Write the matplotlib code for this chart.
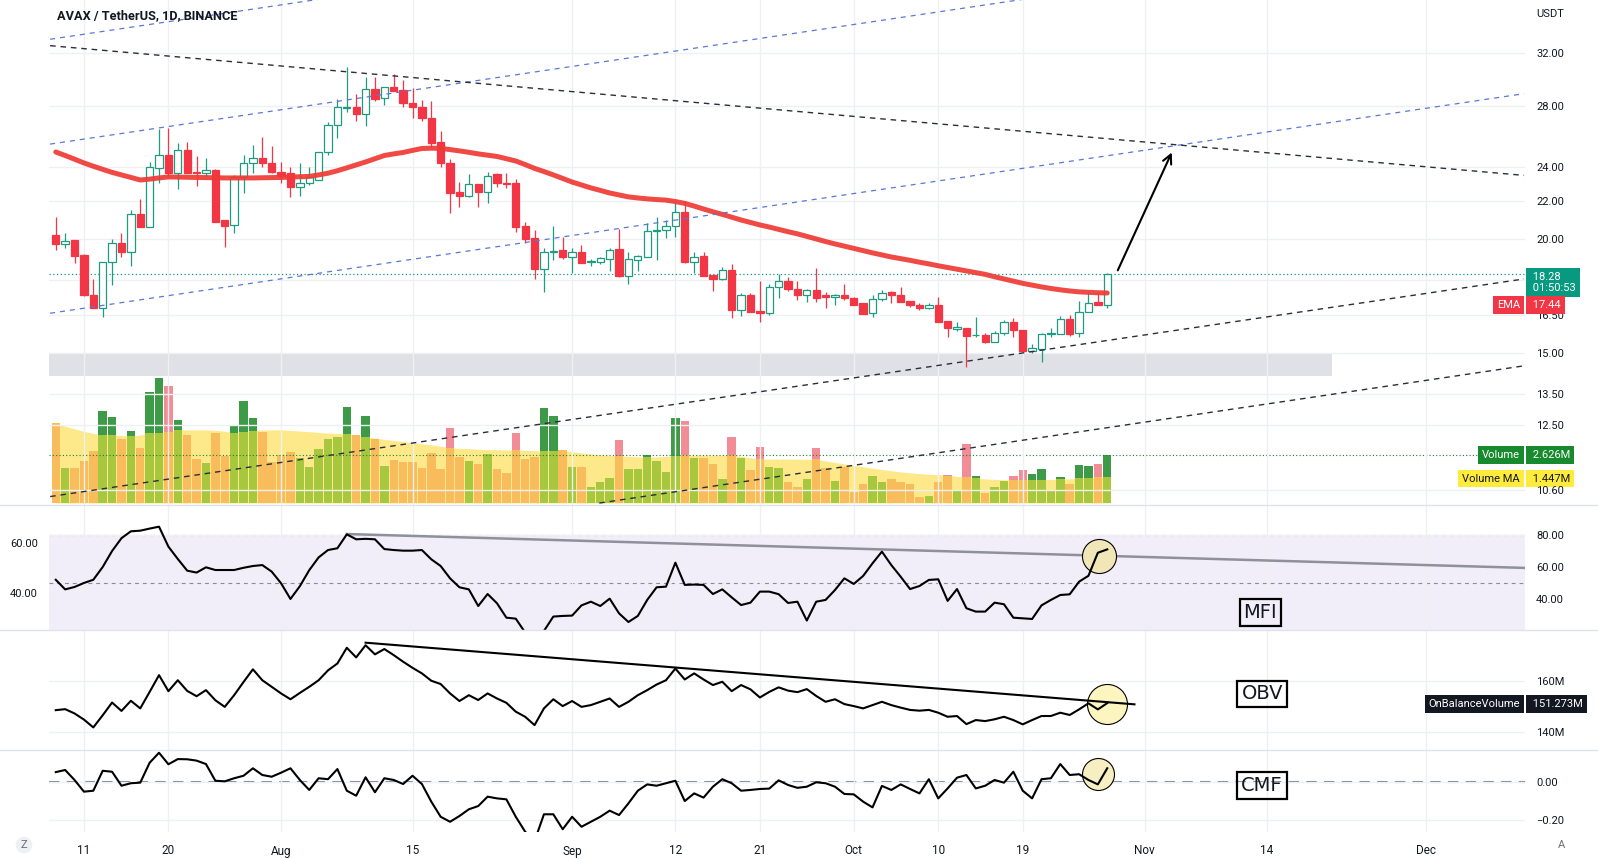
import numpy as np
import matplotlib
matplotlib.use("Agg")
from matplotlib import pyplot as plt
from matplotlib.patches import Rectangle
from matplotlib.lines import Line2D
from matplotlib.ticker import NullLocator

plt.rcParams['font.family'] = ['Roboto', 'DejaVu Sans']

# AVAX/USDT daily candles, bar 0 = 8 Jul 2022 ... bar 112 = 28 Oct 2022
opens = [20.19, 19.72, 19.94, 19.20, 17.35, 16.78, 18.85, 19.78, 19.36, 21.29,
         20.62, 23.90, 24.72, 23.60, 25.03, 23.69, 23.60, 23.80, 20.97, 20.70,
         23.36, 24.20, 24.51, 24.20, 23.69, 23.60, 22.80, 23.00, 23.20, 24.90,
         26.64, 27.85, 27.88, 27.39, 29.17, 28.52, 29.32, 29.12, 28.16, 27.90,
         27.16, 25.55, 24.24, 22.48, 22.28, 22.97, 22.50, 23.55, 23.00, 23.04,
         20.66, 20.03, 18.52, 19.33, 19.44, 19.12, 19.33, 18.85, 18.88, 19.02,
         19.49, 18.22, 18.95, 19.12, 20.40, 20.45, 20.67, 21.41, 18.88, 19.17,
         18.25, 18.06, 18.46, 16.71, 17.33, 16.67, 16.57, 17.69, 17.98, 17.61,
         17.33, 17.57, 17.33, 17.25, 17.35, 17.22, 17.00, 16.57, 17.16, 17.50,
         17.37, 17.08, 16.94, 16.78, 16.94, 16.26, 15.93, 15.96, 15.67, 15.68,
         15.42, 15.75, 16.20, 15.89, 15.07, 15.13, 15.71, 15.71, 16.32, 15.75,
         16.64, 17.03, 16.90]
highs = [21.15, 20.28, 19.94, 19.25, 18.06, 18.85, 19.98, 20.28, 21.51, 22.12,
         24.30, 26.37, 26.44, 25.46, 25.55, 24.67, 24.50, 23.85, 20.97, 23.48,
         24.72, 25.35, 25.88, 25.26, 24.30, 24.00, 24.20, 24.00, 24.90, 26.84,
         28.45, 30.89, 28.81, 30.12, 30.09, 29.35, 30.32, 29.87, 29.26, 28.40,
         28.30, 26.28, 24.47, 23.10, 23.55, 22.97, 23.69, 23.60, 23.60, 23.24,
         20.88, 20.45, 19.53, 20.66, 20.09, 19.53, 19.68, 19.02, 19.12, 19.53,
         20.50, 19.36, 19.22, 20.82, 21.15, 20.97, 21.96, 22.00, 19.36, 19.36,
         18.25, 18.64, 18.78, 17.42, 17.42, 17.98, 17.85, 18.29, 18.16, 17.98,
         17.61, 18.57, 17.50, 17.40, 17.83, 17.25, 17.02, 17.35, 17.57, 17.52,
         17.72, 17.08, 17.00, 17.00, 17.28, 16.26, 16.20, 15.96, 16.43, 15.78,
         15.85, 16.30, 16.37, 15.89, 15.35, 15.78, 15.96, 16.46, 16.50, 17.08,
         17.50, 17.50, 18.32]
lows = [19.44, 19.53, 18.80, 17.30, 16.78, 16.40, 17.80, 19.12, 18.69, 20.60,
        20.60, 23.04, 23.43, 22.68, 23.60, 22.87, 23.40, 20.88, 19.61, 20.28,
        22.47, 23.60, 24.00, 23.60, 23.00, 22.25, 22.28, 22.90, 23.20, 24.70,
        25.82, 27.57, 26.93, 26.59, 28.30, 28.04, 29.03, 27.88, 27.11, 26.95,
        25.24, 24.00, 21.36, 21.69, 22.20, 21.66, 21.87, 22.80, 22.73, 20.36,
        19.80, 18.06, 17.50, 18.96, 19.02, 18.33, 18.80, 18.67, 18.78, 18.45,
        18.17, 17.82, 18.45, 19.12, 18.96, 20.03, 20.09, 18.80, 18.35, 18.20,
        17.53, 18.03, 16.36, 16.46, 16.64, 16.22, 16.50, 17.21, 17.55, 17.14,
        17.03, 17.03, 16.78, 16.94, 17.14, 16.94, 16.52, 16.40, 17.10, 16.99,
        17.03, 16.82, 16.70, 16.75, 16.22, 15.62, 15.86, 14.48, 15.60, 15.38,
        15.42, 15.70, 15.60, 15.04, 14.97, 14.64, 15.62, 15.71, 15.65, 15.62,
        16.64, 16.90, 16.78]
closes = [19.72, 19.89, 19.17, 17.33, 16.78, 18.85, 19.78, 19.36, 21.29, 20.62,
          23.99, 24.72, 23.60, 25.03, 23.60, 23.60, 23.80, 20.88, 20.67, 23.36,
          24.20, 24.51, 24.20, 23.69, 23.43, 22.80, 23.00, 23.40, 24.90, 26.64,
          27.88, 27.90, 27.39, 29.17, 28.47, 29.32, 29.05, 28.16, 27.88, 27.11,
          25.49, 24.20, 22.44, 22.30, 22.97, 22.50, 23.45, 23.00, 22.97, 20.62,
          19.99, 18.52, 19.33, 19.38, 19.12, 19.33, 18.83, 18.92, 19.06, 19.44,
          18.22, 19.02, 19.17, 20.40, 20.45, 20.67, 21.39, 18.85, 19.12, 18.20,
          18.06, 18.46, 16.71, 17.33, 16.64, 16.57, 17.69, 17.98, 17.61, 17.33,
          17.57, 17.23, 17.25, 17.35, 17.21, 16.94, 16.52, 17.16, 17.43, 17.37,
          17.03, 16.90, 16.78, 16.94, 16.22, 15.96, 15.99, 15.66, 15.70, 15.42,
          15.75, 16.20, 15.89, 15.07, 15.17, 15.71, 15.75, 16.32, 15.71, 16.64,
          16.99, 16.90, 18.28]
ema = [24.90, 24.68, 24.45, 24.22, 24.02, 23.83, 23.65, 23.50, 23.35, 23.20,
       23.25, 23.32, 23.38, 23.37, 23.36, 23.35, 23.34, 23.33, 23.32, 23.32,
       23.32, 23.32, 23.33, 23.34, 23.35, 23.37, 23.39, 23.41, 23.50, 23.60,
       23.75, 23.92, 24.10, 24.28, 24.48, 24.68, 24.78, 24.87, 25.00, 25.12,
       25.14, 25.13, 25.05, 24.97, 24.88, 24.78, 24.70, 24.62, 24.48, 24.34,
       24.12, 23.89, 23.70, 23.50, 23.29, 23.08, 22.91, 22.74, 22.60, 22.45,
       22.34, 22.23, 22.17, 22.12, 22.08, 22.05, 21.97, 21.87, 21.72, 21.56,
       21.41, 21.27, 21.12, 20.97, 20.84, 20.71, 20.60, 20.48, 20.36, 20.25,
       20.12, 19.99, 19.86, 19.74, 19.63, 19.52, 19.41, 19.30, 19.20, 19.10,
       19.02, 18.94, 18.85, 18.77, 18.68, 18.60, 18.52, 18.44, 18.36, 18.28,
       18.17, 18.07, 17.97, 17.87, 17.79, 17.71, 17.64, 17.58, 17.53, 17.49,
       17.47, 17.45, 17.44]
volume = [4.35, 1.93, 1.93, 2.31, 2.86, 5.03, 4.72, 3.48, 3.93, 3.02,
          6.07, 6.81, 6.39, 4.54, 3.72, 2.40, 2.20, 3.84, 2.58, 4.26,
          5.57, 4.66, 3.90, 2.26, 2.62, 2.80, 2.44, 1.98, 2.95, 3.50,
          3.62, 5.26, 3.72, 4.77, 3.50, 2.02, 2.35, 2.26, 2.26, 1.93,
          2.75, 1.86, 4.12, 2.49, 2.31, 2.13, 2.68, 1.86, 1.66, 3.84,
          2.39, 2.49, 5.21, 4.75, 2.90, 1.97, 1.95, 0.89, 1.15, 1.38,
          3.44, 1.86, 1.86, 2.61, 2.31, 1.71, 4.66, 4.48, 2.48, 2.48,
          2.13, 1.31, 3.62, 2.46, 1.80, 3.04, 1.97, 1.93, 1.16, 0.86,
          1.29, 3.02, 1.90, 1.22, 1.98, 0.62, 1.04, 1.48, 1.16, 1.31,
          1.16, 1.04, 0.34, 0.38, 1.16, 1.53, 0.71, 3.22, 1.48, 0.53,
          0.86, 1.20, 1.48, 1.80, 1.58, 1.86, 0.71, 1.40, 1.04, 2.08,
          2.02, 2.13, 2.626]
volume_ma = [4.35, 4.20, 4.05, 3.92, 3.80, 3.72, 3.72, 3.69, 3.66, 3.72,
             3.81, 3.85, 3.90, 3.99, 4.00, 4.00, 4.00, 3.97, 3.92, 3.84,
             3.88, 3.95, 3.99, 4.00, 4.00, 3.97, 3.93, 3.90, 3.86, 3.82,
             3.80, 3.77, 3.70, 3.62, 3.55, 3.48, 3.42, 3.36, 3.30, 3.24,
             3.18, 3.10, 3.02, 2.99, 2.97, 2.94, 2.92, 2.91, 2.90, 2.90,
             2.88, 2.86, 2.84, 2.86, 2.88, 2.80, 2.74, 2.68, 2.63, 2.60,
             2.58, 2.55, 2.52, 2.49, 2.52, 2.55, 2.58, 2.60, 2.62, 2.62,
             2.62, 2.62, 2.62, 2.55, 2.47, 2.40, 2.40, 2.40, 2.40, 2.40,
             2.39, 2.39, 2.30, 2.22, 2.14, 2.06, 1.98, 1.90, 1.83, 1.76,
             1.70, 1.65, 1.60, 1.57, 1.55, 1.50, 1.46, 1.40, 1.35, 1.32,
             1.29, 1.27, 1.26, 1.26, 1.26, 1.28, 1.29, 1.29, 1.32, 1.35,
             1.38, 1.40, 1.447]
mfi = [52, 46, 47.5, 50, 52, 60, 70, 78, 82.3, 82.7,
       84, 85.2, 72.7, 65, 57.7, 56.5, 59.8, 58.1, 58.1, 58.1,
       59.5, 60.6, 61.2, 57.1, 49.8, 40, 48, 58, 66, 70.6,
       71.7, 80.4, 77.3, 77.6, 77.3, 71.2, 70.6, 70.2, 70.2, 70.6,
       64.8, 60.6, 52.9, 47.3, 46, 35.6, 43.1, 37.3, 28.3, 27.7,
       19, 16, 20, 29, 29.4, 29.6, 36, 38.3, 35.6, 40.2,
       31, 25.6, 29.4, 39.4, 47.3, 47.7, 62.7, 48.8, 49, 48.8,
       43.1, 46, 41, 36.2, 37.7, 44.6, 44.6, 43, 37.5, 38.3,
       26.5, 38.3, 39.4, 45.6, 52.9, 49.4, 54.4, 62.3, 69.6, 61.2,
       53.9, 46.2, 48.1, 51.9, 52.3, 38.8, 46.2, 34.2, 32.1, 32.1,
       37.7, 36.7, 28.3, 27.9, 27.5, 36, 39.4, 42.5, 42.9, 50.8,
       54.5, 68.9, 71]
obv = [148.5, 148.9, 147.2, 144.8, 141.7, 146.5, 151.5, 148.2, 152.2, 149.2,
       155.7, 162.3, 156.0, 160.3, 156.1, 154.0, 156.4, 152.4, 149.8, 154.4,
       159.6, 164.6, 160.3, 157.7, 155.1, 152.8, 155.3, 157.7, 160.3, 164.2,
       166.9, 173.1, 169.3, 174.1, 170.5, 172.6, 170.2, 167.6, 165.2, 163.0,
       160.1, 158.8, 155.1, 152.1, 154.4, 152.5, 155.1, 153.1, 151.4, 147.9,
       145.9, 142.6, 149.2, 152.8, 150.1, 152.1, 149.8, 150.5, 151.8, 153.1,
       149.8, 151.8, 154.4, 156.4, 158.6, 160.3, 164.9, 160.6, 163.0, 160.6,
       158.4, 159.7, 156.0, 158.4, 156.7, 153.5, 155.7, 157.5, 156.2, 155.6,
       156.8, 154.1, 151.8, 152.8, 150.9, 150.1, 149.2, 150.5, 151.8, 150.5,
       149.5, 148.6, 148.3, 148.6, 147.5, 145.9, 146.2, 143.0, 144.6, 144.2,
       144.9, 145.9, 144.6, 142.9, 144.6, 146.2, 146.2, 147.5, 146.6, 148.8,
       151.2, 148.8, 151.273]
cmf = [0.050, 0.061, 0.009, -0.052, -0.047, 0.057, 0.052, -0.021, -0.008, -0.005,
       0.099, 0.151, 0.091, 0.118, 0.117, 0.110, 0.092, 0.005, 0.002, 0.018,
       0.031, 0.070, 0.035, 0.026, 0.047, 0.070, 0.009, -0.043, 0.018, 0.013,
       0.066, -0.047, -0.073, 0.023, -0.055, 0.018, 0.009, -0.012, 0.031, -0.012,
       -0.104, -0.183, -0.209, -0.179, -0.144, -0.127, -0.078, -0.087, -0.092, -0.183,
       -0.261, -0.310, -0.170, -0.170, -0.248, -0.183, -0.235, -0.209, -0.183, -0.151,
       -0.174, -0.113, -0.047, -0.014, -0.021, -0.008, 0.005, -0.101, -0.061, -0.083,
       -0.026, 0.013, -0.008, -0.047, -0.043, -0.038, -0.036, 0.007, -0.017, -0.032,
       -0.026, -0.003, -0.008, -0.026, -0.064, -0.066, -0.104, -0.134, -0.022, -0.043,
       -0.014, -0.038, -0.061, 0.013, -0.087, -0.035, 0.021, 0.035, -0.035, -0.021,
       0.009, -0.005, 0.052, -0.047, -0.087, 0.013, 0.018, 0.092, 0.035, 0.039,
       0.009, -0.014, 0.070]

date_pos = [3, 12, 24, 38, 55, 66, 75, 85, 94, 103, 116, 129, 146]
date_lbl = ['11', '20', 'Aug', '15', 'Sep', '12', '21', 'Oct', '10', '19', 'Nov', '14', 'Dec']
price_ticks = [10.6, 12.5, 13.5, 15.0, 16.5, 18.0, 20.0, 22.0, 24.0, 28.0, 32.0]
hidden_ticks = [18.0]   # label sits under the last-price tag

# drawings, as (bar, value) pairs
blue_channel = [[(-0.6, 33.1), (156.4, 57.6)],
                [(-0.6, 25.4), (156.4, 44.2)],
                [(-0.6, 16.57), (156.4, 28.85)]]
black_lines = [[(-0.6, 32.57), (156.4, 23.47)],
               [(-0.6, 10.43), (156.4, 18.07)],
               [(57.9, 10.26), (156.4, 14.51)]]
zone_low, zone_high, zone_end = 14.15, 14.98, 135.9
arrow_pts = [(113.0, 18.35), (119.0, 25.03)]
mfi_trend = [(31.0, 80.6), (156.6, 59.4)]
obv_trend = [(33.0, 175.1), (114.9, 150.8)]
marks = {'mfi': (111.1, 66.9), 'obv': (112.0, 150.8), 'cmf': (111.0, 0.04)}

opens, highs, lows, closes = map(np.array, (opens, highs, lows, closes))
volume, volume_ma = np.array(volume), np.array(volume_ma)
x = np.arange(len(closes))
up = closes >= opens

W, H = 1598, 859
L, R = 49, 1525
fig = plt.figure(figsize=(W / 100, H / 100), dpi=100)


def panel(top, bot, **kw):
    return fig.add_axes([L / W, 1 - bot / H, (R - L) / W, (bot - top) / H], **kw)


ax = panel(0, 505)
axv = ax.twinx()
ax_mfi = panel(505, 630, sharex=ax)
ax_obv = panel(630, 750, sharex=ax)
ax_cmf = panel(750, 832, sharex=ax)
ax_mfi_l = ax_mfi.twinx()

ax.set_zorder(axv.get_zorder() + 1)
ax.patch.set_visible(False)

txt = '#131722'
grid = '#eef0f4'
up_col, dn_col = '#1e9c82', '#f23645'

for a in (ax, axv, ax_mfi, ax_obv, ax_cmf, ax_mfi_l):
    for s in a.spines.values():
        s.set_visible(False)

ax.set_xlim(-0.72, 156.5)
for a in (ax, ax_mfi, ax_obv, ax_cmf):
    a.set_xticks(date_pos)
    a.grid(axis='x', color=grid, lw=1)
    a.tick_params(axis='x', length=0, labelbottom=False)
ax_cmf.set_xticks(date_pos, date_lbl)
ax_cmf.tick_params(axis='x', length=0, labelbottom=True, pad=9, labelsize=8.5, colors=txt)

# ---- price panel
ax.set_yscale('log')
ax.set_ylim(10.21, 36.55)
ax.yaxis.tick_right()
ax.set_yticks(price_ticks, ['' if p in hidden_ticks else f'{p:.2f}' for p in price_ticks])
ax.yaxis.set_minor_locator(NullLocator())
ax.tick_params(axis='y', length=0, pad=8, labelsize=8, colors=txt)
ax.grid(axis='y', color=grid, lw=1)

ax.add_patch(Rectangle((-0.72, zone_low), zone_end + 0.72, zone_high - zone_low,
                       color='#dfe1e6', zorder=1, lw=0))

ax.vlines(x, lows, highs, color=np.where(up, up_col, dn_col), lw=0.9, zorder=3)
ax.bar(x, np.abs(closes - opens), bottom=np.minimum(opens, closes), width=0.78,
       color=np.where(up, 'white', dn_col), edgecolor=np.where(up, up_col, dn_col),
       linewidth=0.9, zorder=4)
ax.plot(x, ema, color='#ef3a35', lw=3.6, alpha=0.92, zorder=5, solid_capstyle='round')
ax.axhline(closes[-1], color='#089981', ls=(0, (1, 2)), lw=0.9, zorder=2)

for (x0, y0), (x1, y1) in blue_channel:
    ax.plot([x0, x1], [y0, y1], color='#5a78d4', lw=0.9, ls=(0, (4, 4)), zorder=6)
for (x0, y0), (x1, y1) in black_lines:
    ax.plot([x0, x1], [y0, y1], color='#2a2e39', lw=1.0, ls=(0, (4, 3.5)), zorder=6)
ax.annotate('', xy=arrow_pts[1], xytext=arrow_pts[0],
            arrowprops=dict(arrowstyle='->', color='black', lw=1.5, mutation_scale=16), zorder=7)

ax.text(8 / (R - L), 1 - 16 / 505, 'AVAX / TetherUS, 1D, BINANCE', transform=ax.transAxes,
        fontsize=9.2, fontweight='bold', color=txt, va='center', ha='left', zorder=10)
ax.text(1 + 11 / (R - L), 1 - 14 / 505, 'USDT', transform=ax.transAxes,
        fontsize=8, color=txt, va='center', ha='left')

# ---- volume overlay
axv.set_ylim(-0.11, 27.5)
axv.set_yticks([])
axv.fill_between(x, 0, volume_ma, color='#fde98a', lw=0, zorder=1)
low_part = np.minimum(volume, volume_ma)
high_part = np.clip(volume - volume_ma, 0, None)
axv.bar(x, low_part, width=0.9, color=np.where(up, '#a7c83e', '#f8bc5c'), zorder=2)
axv.bar(x, high_part, bottom=low_part, width=0.9,
        color=np.where(up, '#3d9b48', '#f28c96'), zorder=2)
axv.axhline(volume[-1], color='#1b7f30', ls=(0, (1, 2)), lw=0.8, zorder=3)


def tag(a, y, text, fc, tc='white', name=None, dy=0):
    tr = a.get_yaxis_transform()
    a.annotate(' ' + text, xy=(1, y), xycoords=tr, xytext=(5, dy), textcoords='offset pixels',
               ha='left', va='center', fontsize=8, color=tc, linespacing=1.1,
               bbox=dict(boxstyle='square,pad=0.35', fc=fc, ec='none'),
               annotation_clip=False, zorder=20)
    if name:
        a.annotate(name, xy=(1, y), xycoords=tr, xytext=(-5, dy), textcoords='offset pixels',
                   ha='right', va='center', fontsize=8, color=tc,
                   bbox=dict(boxstyle='square,pad=0.35', fc=fc, ec='none'),
                   annotation_clip=False, zorder=20)


tag(ax, closes[-1], f'{closes[-1]:.2f}\n 01:50:53', '#089981', dy=-8)
tag(ax, ema[-1], f'{ema[-1]:.2f}', '#f23645', name='EMA', dy=-12)
tag(axv, volume[-1], f'{volume[-1]:.3f}M', '#168a2c', name='Volume')
tag(axv, volume_ma[-1], f'{volume_ma[-1]:.3f}M', '#ffeb3b', tc=txt, name='Volume MA', dy=-2)

box_font = ['Liberation Sans Narrow', 'DejaVu Sans']


def name_box(a, xy, text):
    a.text(xy[0], xy[1], text, ha='center', va='center', fontsize=14, color=txt,
           family=box_font, zorder=10,
           bbox=dict(boxstyle='square,pad=0.2', fc='none', ec='black', lw=1.6))


# ---- MFI
ax_mfi.set_ylim(20.6, 98.75)
ax_mfi.yaxis.tick_right()
ax_mfi.set_yticks([40, 60, 80], ['40.00', '60.00', '80.00'])
ax_mfi.tick_params(axis='y', length=0, pad=8, labelsize=8, colors=txt)
ax_mfi.grid(axis='y', color=grid, lw=1)
ax_mfi.axhspan(20, 80, color='#f2eef9', lw=0, zorder=0)
for lvl in (80, 50, 20):
    ax_mfi.axhline(lvl, color='#8a8d97', lw=0.8, ls=(0, (3.5, 3.5)), zorder=1)
ax_mfi.plot([p[0] for p in mfi_trend], [p[1] for p in mfi_trend], color='#8e909b', lw=1.8, zorder=2)
ax_mfi.scatter(*marks['mfi'], s=600, fc='#f1e6b8', ec='black', lw=0.8, zorder=3)
ax_mfi.plot(x, mfi, color='black', lw=1.5, zorder=4)
name_box(ax_mfi, (128.3, 31.3), 'MFI')
ax_mfi_l.set_ylim(25.2, 75.2)
ax_mfi_l.yaxis.tick_left()
ax_mfi_l.set_yticks([40, 60], ['40.00', '60.00'])
ax_mfi_l.tick_params(axis='y', length=0, pad=8, labelsize=8, colors=txt)
ax_mfi.yaxis.tick_right()

# ---- OBV
ax_obv.set_ylim(132.8, 180.1)
ax_obv.yaxis.tick_right()
ax_obv.set_yticks([140, 160], ['140M', '160M'])
ax_obv.tick_params(axis='y', length=0, pad=8, labelsize=8, colors=txt)
ax_obv.grid(axis='y', color=grid, lw=1)
ax_obv.scatter(*marks['obv'], s=830, fc='#fdf5bf', ec='black', lw=0.8, zorder=2)
ax_obv.plot(x, obv, color='black', lw=1.5, zorder=3)
ax_obv.plot([p[0] for p in obv_trend], [p[1] for p in obv_trend], color='black', lw=1.5, zorder=4)
name_box(ax_obv, (128.5, 154.9), 'OBV')
tag(ax_obv, obv[-1], f'{obv[-1]:.3f}M', txt, name='OnBalanceVolume', dy=-1)

# ---- CMF
ax_cmf.set_ylim(-0.2624, 0.1654)
ax_cmf.yaxis.tick_right()
ax_cmf.set_yticks([-0.2, 0.0], ['\u22120.20', '0.00'])
ax_cmf.tick_params(axis='y', length=0, pad=8, labelsize=8, colors=txt)
ax_cmf.grid(axis='y', color=grid, lw=1)
ax_cmf.axhline(0, color='#7b7e88', lw=1.5, ls=(0, (5, 3.5)), zorder=1)
ax_cmf.scatter(*marks['cmf'], s=530, fc='#f7efc2', ec='black', lw=0.8, zorder=2)
ax_cmf.plot(x, cmf, color='black', lw=1.5, zorder=3)
name_box(ax_cmf, (128.5, -0.02), 'CMF')

for yy in (505, 630, 750):
    fig.add_artist(Line2D([0, 1], [1 - yy / H] * 2, transform=fig.transFigure,
                          color='#e0e3eb', lw=1))

fig.text(24 / W, 1 - 845 / H, 'Z', ha='center', va='center', fontsize=8, color='#6a6d78',
         bbox=dict(boxstyle='circle,pad=0.3', fc='#eef0f3', ec='none'))
fig.text(1561 / W, 1 - 845 / H, 'A', ha='center', va='center', fontsize=8, color='#6a6d78')

fig.savefig('out.png', dpi=100, facecolor='white')
